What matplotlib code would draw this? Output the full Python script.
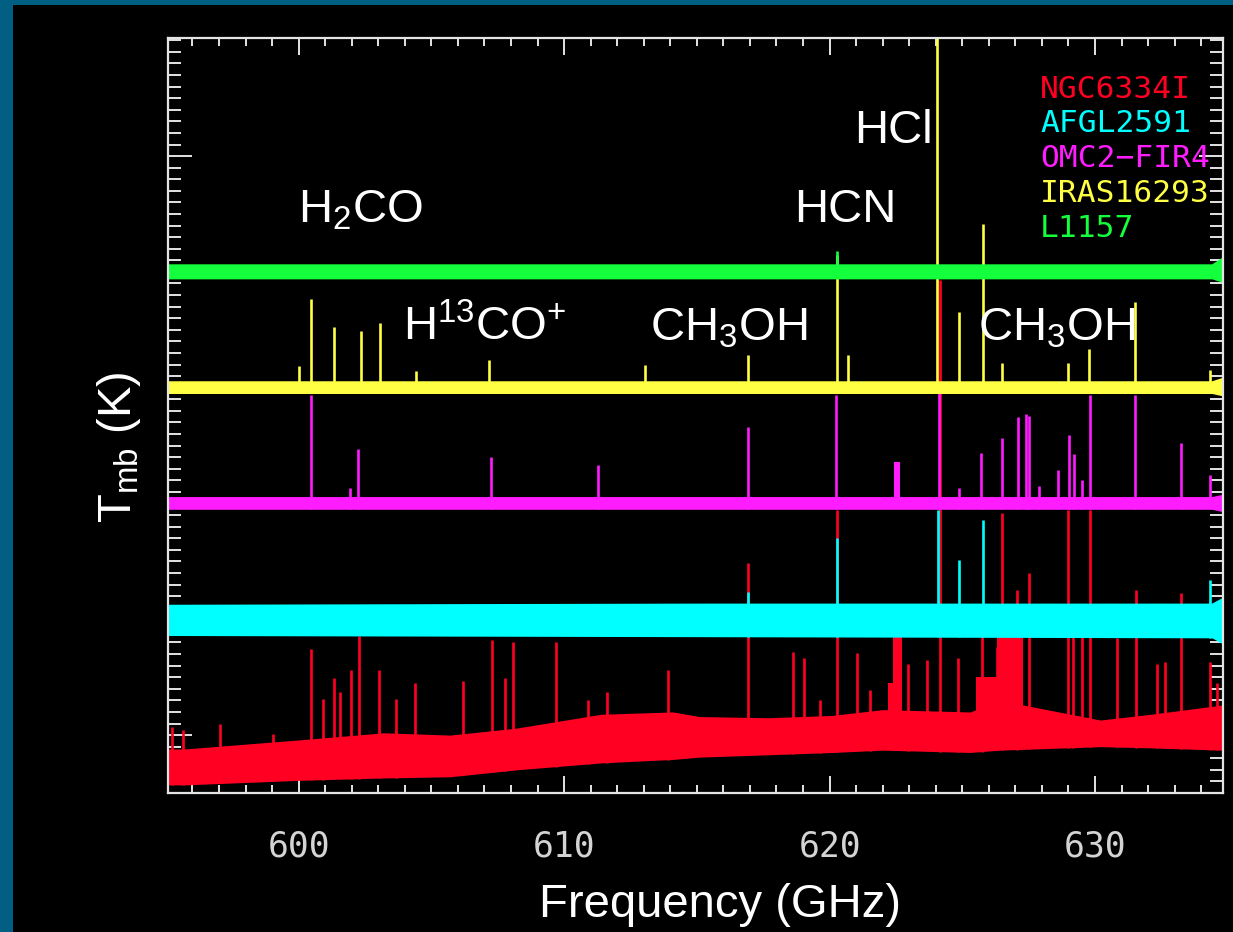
import numpy as np
import matplotlib
matplotlib.use("Agg")
import matplotlib.pyplot as plt
from matplotlib.patches import Rectangle
from matplotlib.ticker import MultipleLocator

plt.rcParams['font.family'] = ['Liberation Sans', 'DejaVu Sans']
plt.rcParams['mathtext.fontset'] = 'custom'
plt.rcParams['mathtext.rm'] = 'Liberation Sans'

# sources (legend order) and colours
sources = ['NGC6334I', 'AFGL2591', 'OMC2\u2212FIR4', 'IRAS16293', 'L1157']
colors = ['#ff0022', '#00ffff', '#ff1cff', '#ffff44', '#14ff3c']

# noise band of each spectrum: frequency (GHz), lower / upper envelope (offset K)
ngc_band_f = [595.1, 595.7, 600.1, 603.2, 605.7, 608.2, 611.4, 614.1, 615.1,
              617.7, 620.1, 622.0, 625.3, 626.4, 630.2, 632.1, 634.8]
ngc_lo = [0.7, 0.7, 1.1, 1.3, 1.4, 2.0, 2.6, 2.9, 3.1, 3.3, 3.5, 3.7, 3.5, 3.7, 4.0, 3.9, 3.7]
ngc_hi = [3.8, 3.8, 4.6, 5.2, 5.0, 5.6, 6.8, 7.0, 6.6, 6.5, 6.7, 7.2, 7.0, 8.0, 6.3, 6.8, 7.6]

afgl_band_f = [595.1, 615.0, 634.4, 634.8]
afgl_lo = [13.6, 13.5, 13.4, 12.9]
afgl_hi = [16.3, 16.4, 16.4, 16.9]

omc_band_f = [595.1, 634.4, 634.8]
omc_lo = [24.5, 24.5, 24.3]
omc_hi = [25.6, 25.6, 25.8]

iras_band_f = [595.1, 634.4, 634.8]
iras_lo = [34.5, 34.5, 34.3]
iras_hi = [35.6, 35.6, 35.9]

l1157_band_f = [595.1, 634.4, 634.8]
l1157_lo = [44.4, 44.4, 44.1]
l1157_hi = [45.7, 45.7, 46.3]

# emission lines: frequency (GHz) and peak (offset K)
ngc_line_f = [595.24, 595.66, 597.04, 599.04, 600.47, 600.92, 601.34, 601.56, 601.98, 602.28,
              603.03, 603.67, 604.39, 606.20, 607.29, 607.78, 608.08, 609.70, 610.90, 611.62,
              613.92, 616.93, 618.62, 619.04, 619.64, 620.28, 621.04, 621.53, 622.96, 623.67,
              624.16, 624.84, 625.74, 626.31, 626.50, 627.06, 627.52, 628.98, 629.17, 629.51,
              629.81, 630.83, 631.55, 632.34, 632.64, 633.24, 634.33, 634.59]
ngc_line_t = [5.7, 5.4, 6.0, 5.1, 12.4, 8.1, 9.9, 8.7, 10.6, 13.6,
              10.6, 8.1, 9.5, 9.7, 13.2, 9.9, 13.0, 13.0, 8.0, 8.7,
              10.6, 19.9, 12.2, 11.7, 8.0, 24.4, 12.1, 8.9, 11.1, 11.5,
              44.3, 11.7, 13.6, 12.6, 24.2, 17.5, 19.0, 24.4, 13.5, 13.5,
              24.4, 13.4, 17.5, 11.1, 11.3, 17.3, 11.3, 9.5]
# blended line groups: centre, width (GHz), top
ngc_blend_f = [622.3, 622.55, 625.9, 626.8]
ngc_blend_w = [0.2, 0.35, 0.8, 1.0]
ngc_blend_t = [9.5, 13.6, 10.0, 13.6]

afgl_line_f = [616.93, 620.28, 624.09, 624.88, 625.78, 634.33]
afgl_line_t = [17.4, 22.0, 24.4, 20.1, 23.6, 18.4]

omc_line_f = [600.47, 601.94, 602.24, 607.25, 611.28, 616.93, 620.24, 624.12, 624.88, 625.71,
              626.50, 627.10, 627.40, 627.52, 627.89, 628.61, 629.02, 629.21, 629.51, 629.81,
              631.51, 633.24, 634.33]
omc_line_t = [34.4, 26.3, 29.7, 29.0, 28.3, 31.6, 34.4, 34.8, 26.3, 29.4,
              30.7, 32.5, 32.7, 32.6, 26.5, 27.9, 30.9, 29.3, 27.0, 34.4,
              34.4, 30.2, 27.5]
omc_blend_f = [622.54]
omc_blend_w = [0.2]
omc_blend_t = [28.6]

iras_line_f = [600.02, 600.47, 601.34, 602.35, 603.07, 604.43, 607.17, 613.05, 616.93, 620.28,
               620.70, 624.05, 624.88, 625.78, 626.50, 628.98, 629.78, 631.51, 634.33]
iras_line_t = [36.9, 42.7, 40.2, 39.9, 40.6, 36.4, 37.4, 37.0, 37.8, 46.5,
               37.8, 70.0, 41.5, 49.1, 37.1, 37.1, 38.3, 42.4, 36.5]

l1157_line_f = [620.28]
l1157_line_t = [46.8]

# molecule labels
mol_text = ['HCl', r'H$_\mathrm{2}$CO', 'HCN', r'H$^\mathrm{13}$CO$^\mathrm{+}$',
            r'CH$_\mathrm{3}$OH', r'CH$_\mathrm{3}$OH']
mol_f = [622.39, 602.32, 620.58, 607.02, 616.21, 628.57]
mol_y = [56.1, 49.3, 49.3, 39.1, 39.1, 39.1]

spectra = [
    (ngc_band_f, ngc_lo, ngc_hi, ngc_line_f, ngc_line_t, ngc_blend_f, ngc_blend_w, ngc_blend_t),
    (afgl_band_f, afgl_lo, afgl_hi, afgl_line_f, afgl_line_t, [], [], []),
    (omc_band_f, omc_lo, omc_hi, omc_line_f, omc_line_t, omc_blend_f, omc_blend_w, omc_blend_t),
    (iras_band_f, iras_lo, iras_hi, iras_line_f, iras_line_t, [], [], []),
    (l1157_band_f, l1157_lo, l1157_hi, l1157_line_f, l1157_line_t, [], [], []),
]

fig = plt.figure(figsize=(12.33, 9.32), dpi=100, facecolor='#005f82')
fig.patches.append(Rectangle((13 / 1233, 0), 1, 1 - 5 / 932, transform=fig.transFigure,
                             facecolor='black', edgecolor='none', zorder=-10))

ax = fig.add_axes([168 / 1233, 1 - 793 / 932, 1055 / 1233, 755 / 932])
ax.set_facecolor('black')

for k, (bf, lo, hi, lf, lt, gf, gw, gt) in enumerate(spectra):
    c = colors[k]
    z = 2 + k
    ax.fill_between(bf, lo, hi, color=c, linewidth=0, zorder=z)
    base = np.interp(lf, bf, lo)
    ax.vlines(lf, base, lt, color=c, linewidth=1.9, zorder=z)
    if len(gf):
        gbase = np.interp(gf, bf, lo)
        ax.bar(gf, np.array(gt) - gbase, width=gw, bottom=gbase, color=c, linewidth=0, zorder=z)

ax.set_xlim(595.08, 634.82)
ax.set_ylim(0, 65.2)

ax.xaxis.set_major_locator(MultipleLocator(10))
ax.xaxis.set_minor_locator(MultipleLocator(1))
ax.yaxis.set_major_locator(MultipleLocator(50, offset=5))
ax.yaxis.set_minor_locator(MultipleLocator(1))

axis_col = '#e4e4e4'
for s in ax.spines.values():
    s.set_color(axis_col)
    s.set_linewidth(1.6)
    s.set_zorder(20)
ax.tick_params(which='both', direction='in', top=True, right=True, color=axis_col, width=1.4)
ax.tick_params(axis='x', which='major', length=12)
ax.tick_params(axis='x', which='minor', length=6)
ax.tick_params(axis='y', which='major', length=17)
ax.tick_params(axis='y', which='minor', length=9.5)
ax.tick_params(axis='y', labelleft=False)
ax.tick_params(axis='x', labelcolor='#d4d4d4', labelsize=25, pad=26)
for lab in ax.get_xticklabels():
    lab.set_fontfamily('DejaVu Sans Mono')

# molecule names
for t, f, y in zip(mol_text, mol_f, mol_y):
    ax.text(f, y, t, color='white', fontsize=34, ha='center', va='baseline', zorder=30)

# legend as coloured text
leg_y = [60.0, 57.1, 54.1, 51.0, 48.0]
for name, c, y in zip(sources, colors, leg_y):
    ax.text(627.93, y, name, color=c, fontsize=22.5, family='DejaVu Sans Mono',
            ha='left', va='baseline', zorder=30, clip_on=False)

fig.text(720 / 1233, 1 - 917 / 932, 'Frequency (GHz)', color='white', fontsize=34,
         ha='center', va='baseline')
fig.text(119 / 1233, 1 - 447 / 932, r'T$_\mathrm{mb}$ (K)', color='white', fontsize=34,
         rotation=90, ha='center', va='center')

fig.savefig('out.png', dpi=100, facecolor=fig.get_facecolor())
